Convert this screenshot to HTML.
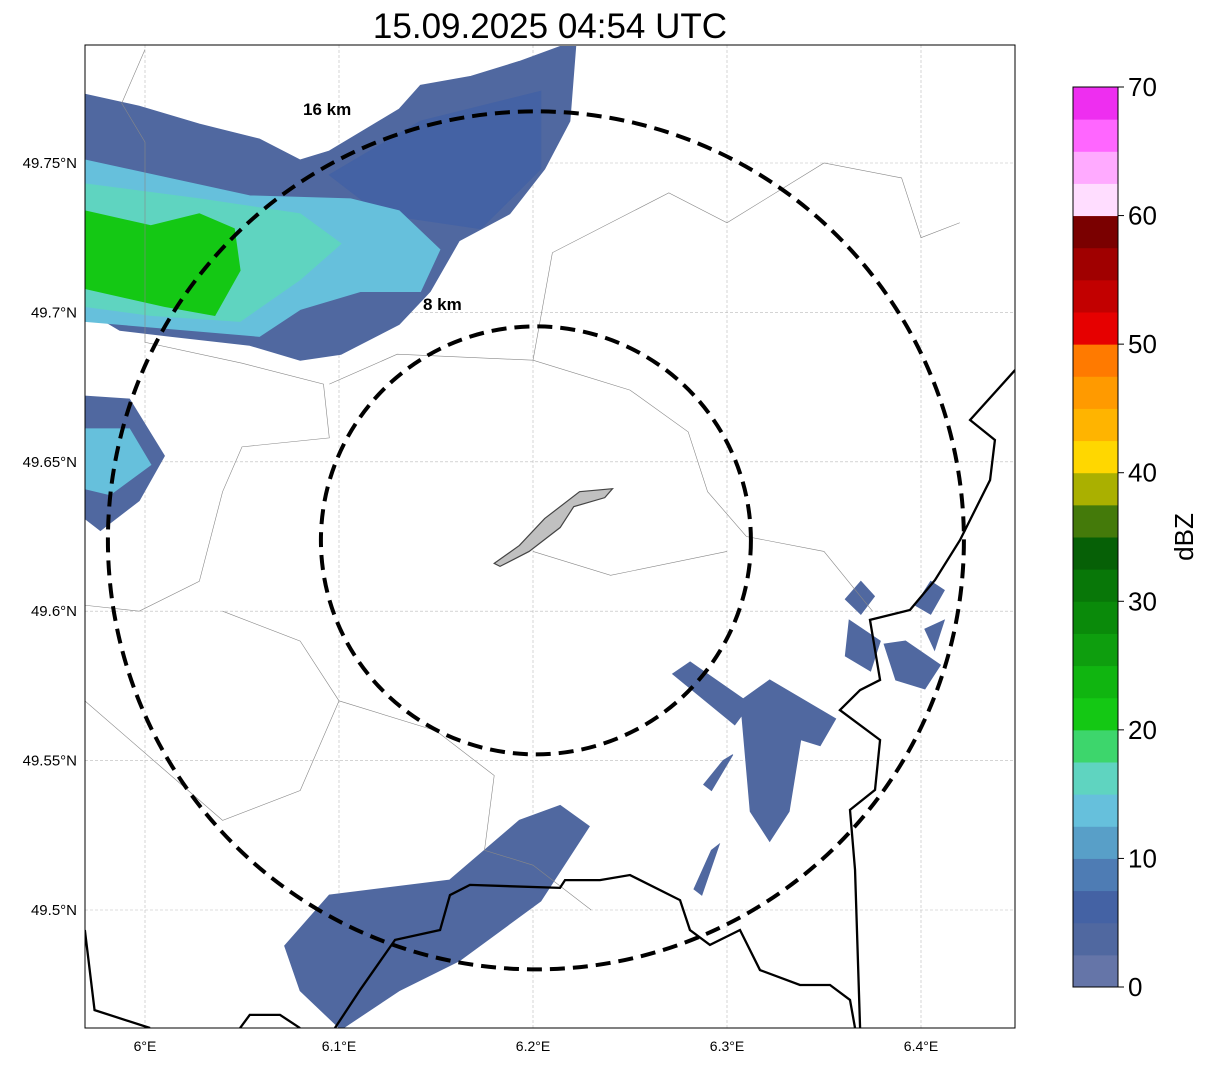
<!DOCTYPE html>
<html><head><meta charset="utf-8"><style>
body{margin:0;background:#fff;width:1207px;height:1064px;overflow:hidden;font-family:"Liberation Sans","DejaVu Sans",sans-serif}
</style></head><body>
<svg id="chart" width="1207" height="1064" xmlns="http://www.w3.org/2000/svg" font-family="Liberation Sans, DejaVu Sans, sans-serif">
<defs><clipPath id="ax"><rect x="85" y="45" width="930" height="983"/></clipPath></defs>
<text x="550" y="38" font-size="35" text-anchor="middle">15.09.2025 04:54 UTC</text>
<g id="grid"></g>
<g id="marks" clip-path="url(#ax)"></g>
<g id="borders" clip-path="url(#ax)"></g>
<g id="over" clip-path="url(#ax)"></g>
<rect x="85" y="45" width="930" height="983" fill="none" stroke="#000" stroke-width="1"/>
<g id="ticks"></g>
<g id="cbar"></g>
</svg>
<script>
const lonTicks=[6.0,6.1,6.2,6.3,6.4];
const lonLabels=["6°E","6.1°E","6.2°E","6.3°E","6.4°E"];
const latTicks=[49.75,49.7,49.65,49.6,49.55,49.5];
const latLabels=["49.75°N","49.7°N","49.65°N","49.6°N","49.55°N","49.5°N"];
const cbColors=["#6575a8","#5068a0","#4462a4","#4e7cb4","#589fc8","#66c0dc","#5fd4c0","#3dd66c","#14c814","#10b510","#0e9e0e","#0a8a0a","#087708","#066006","#447a0a","#aab000","#ffd700","#ffb400","#ff9a00","#ff7a00","#e60000","#c20000","#a00000","#7a0000","#ffddff","#ffaaff","#ff66ff","#ee2ef0"];
const cbTicks=[0,10,20,30,40,50,60,70];
const echoDbz=[4,6,13,17,21,4,13,4,3,3,3,3,3,3,3,3,3];
const echoPolys=[
[[5.969,49.773],[5.997,49.769],[6.028,49.763],[6.059,49.758],[6.080,49.751],[6.095,49.754],[6.131,49.768],[6.142,49.776],[6.168,49.779],[6.193,49.784],[6.214,49.789],[6.222,49.789],[6.219,49.764],[6.206,49.748],[6.188,49.733],[6.162,49.724],[6.147,49.707],[6.131,49.696],[6.101,49.686],[6.080,49.684],[6.054,49.689],[6.013,49.692],[5.987,49.694],[5.969,49.701]],
[[6.142,49.764],[6.204,49.774],[6.204,49.748],[6.173,49.728],[6.121,49.733],[6.095,49.746]],
[[5.969,49.751],[6.054,49.739],[6.106,49.738],[6.131,49.734],[6.152,49.721],[6.142,49.707],[6.111,49.707],[6.080,49.701],[6.059,49.692],[5.969,49.697]],
[[5.969,49.743],[6.028,49.738],[6.080,49.733],[6.101,49.723],[6.080,49.711],[6.049,49.697],[6.003,49.699],[5.969,49.702]],
[[5.969,49.734],[6.003,49.729],[6.028,49.733],[6.046,49.728],[6.049,49.714],[6.036,49.699],[6.010,49.702],[5.969,49.708]],
[[5.969,49.672],[5.992,49.671],[6.010,49.652],[5.997,49.637],[5.977,49.627],[5.969,49.631]],
[[5.969,49.661],[5.992,49.661],[6.003,49.649],[5.982,49.639],[5.969,49.641]],
[[6.072,49.488],[6.095,49.505],[6.157,49.510],[6.193,49.530],[6.214,49.535],[6.229,49.528],[6.204,49.503],[6.162,49.483],[6.131,49.473],[6.101,49.460],[6.080,49.473]],
[[6.272,49.579],[6.281,49.583],[6.312,49.569],[6.304,49.562]],
[[6.307,49.570],[6.322,49.577],[6.356,49.564],[6.348,49.555],[6.338,49.557],[6.332,49.533],[6.322,49.523],[6.312,49.533]],
[[6.361,49.604],[6.369,49.610],[6.376,49.605],[6.369,49.599]],
[[6.363,49.597],[6.379,49.590],[6.374,49.580],[6.361,49.585]],
[[6.381,49.589],[6.392,49.590],[6.410,49.582],[6.402,49.574],[6.387,49.577]],
[[6.397,49.602],[6.405,49.610],[6.412,49.607],[6.405,49.599]],
[[6.402,49.594],[6.412,49.597],[6.407,49.587]],
[[6.298,49.550],[6.303,49.552],[6.292,49.540],[6.288,49.542]],
[[6.292,49.520],[6.296,49.522],[6.287,49.505],[6.283,49.507]]
];
const ns="http://www.w3.org/2000/svg";
const X=lon=>145+(lon-6.0)*1940;
const Y=lat=>163-(lat-49.75)*2988;
const cbY=v=>987-v*900/70;
function mk(tag,attrs,parent){const e=document.createElementNS(ns,tag);for(const k in attrs)e.setAttribute(k,attrs[k]);parent.appendChild(e);return e;}
const grid=document.getElementById('grid'),ticks=document.getElementById('ticks'),marks=document.getElementById('marks'),bord=document.getElementById('borders'),over=document.getElementById('over'),cbar=document.getElementById('cbar');
lonTicks.forEach((v,i)=>{
 const l=mk('line',{x1:X(v),x2:X(v),y1:45,y2:1028,stroke:'#bbb','stroke-width':0.6,'stroke-dasharray':'3,2'},grid);
 
 
 const t=mk('text',{x:X(v),y:1051,'font-size':14,'text-anchor':'middle'},ticks);t.textContent=lonLabels[i];
 
 
});
latTicks.forEach((v,i)=>{
 const l=mk('line',{x1:85,x2:1015,y1:Y(v),y2:Y(v),stroke:'#bbb','stroke-width':0.6,'stroke-dasharray':'3,2'},grid);
 
 
 const t=mk('text',{x:77,y:Y(v)+5,'font-size':15,'text-anchor':'end'},ticks);t.textContent=latLabels[i];
 
 
});
const thin=[[[6.0,49.788],[5.988,49.770],[6.000,49.757],[6.000,49.690],[6.050,49.683],[6.092,49.676],[6.095,49.658],[6.050,49.655],[6.040,49.640],[6.028,49.610],[5.997,49.600],[5.969,49.602]],
[[6.095,49.676],[6.130,49.686],[6.200,49.684],[6.250,49.674],[6.280,49.660],[6.290,49.640],[6.310,49.625],[6.350,49.620],[6.375,49.600]],
[[6.200,49.684],[6.210,49.720],[6.270,49.740],[6.300,49.730],[6.350,49.750],[6.390,49.745],[6.400,49.725],[6.420,49.730]],
[[6.040,49.600],[6.080,49.590],[6.100,49.570],[6.150,49.560],[6.180,49.545],[6.175,49.520],[6.200,49.515],[6.230,49.500]],
[[6.200,49.620],[6.240,49.612],[6.300,49.620]],[[6.100,49.570],[6.080,49.540],[6.040,49.530],[5.969,49.570]]];
thin.forEach(p=>{const e=mk('polyline',{points:p.map(q=>X(q[0])+','+Y(q[1])).join(' '),fill:'none',stroke:'#888','stroke-width':0.6},bord);
 
 });
echoPolys.forEach((p,i)=>{
 const c=cbColors[Math.min(27,Math.floor(echoDbz[i]/2.5))];
 const e=mk('polygon',{points:p.map(q=>X(q[0])+','+Y(q[1])).join(' '),fill:c,stroke:c,'stroke-width':1},marks);
 
 
});
const thick=[
[[6.4485,49.6807],[6.4253,49.6640],[6.4381,49.6573],[6.4356,49.6439],[6.4201,49.6238],[6.4072,49.6104],[6.3943,49.6004],[6.3737,49.5971],[6.3789,49.5770],[6.3686,49.5736],[6.3582,49.5669],[6.3789,49.5569],[6.3763,49.5402],[6.3634,49.5335],[6.3660,49.5134],[6.3686,49.4605]],
[[5.969,49.4933],[5.974,49.4665],[6.0026,49.4605]],
[[6.049,49.4605],[6.054,49.4649],[6.0696,49.4649],[6.0799,49.4605]],
[[6.0979,49.4605],[6.1108,49.4732],[6.1289,49.49],[6.1521,49.4933],[6.1572,49.505],[6.1675,49.5084],[6.2139,49.5074],[6.2165,49.51],[6.2345,49.51],[6.25,49.5117],[6.2758,49.5033],[6.2809,49.4933],[6.2912,49.4883],[6.3067,49.4933],[6.317,49.4799],[6.3376,49.4749],[6.3531,49.4749],[6.3634,49.4699],[6.366,49.4605]]
];
thick.forEach(p=>{const e=mk('polyline',{points:p.map(q=>X(q[0])+','+Y(q[1])).join(' '),fill:'none',stroke:'#000','stroke-width':2.3},over);
 
 });
const city=[[6.180,49.616],[6.193,49.622],[6.206,49.631],[6.224,49.640],[6.241,49.641],[6.237,49.638],[6.221,49.635],[6.214,49.628],[6.198,49.620],[6.183,49.615]];
const ce=mk('polygon',{points:city.map(q=>X(q[0])+','+Y(q[1])).join(' '),fill:'#c0c0c0',stroke:'#444','stroke-width':1.2},over);


const ringCenter=[6.2015,49.6237];
const ringRadii=[[215,214],[428,429]];
ringRadii.forEach((r,i)=>{const e=mk('ellipse',{cx:X(ringCenter[0]),cy:Y(ringCenter[1]),rx:r[0],ry:r[1],fill:'none',stroke:'#000','stroke-width':4,'stroke-dasharray':'15,8'},over);
 
 });
const l1=mk('text',{x:303,y:115,'font-size':17,'font-weight':'bold'},over);l1.textContent='16 km';


const l2=mk('text',{x:423,y:310,'font-size':17,'font-weight':'bold'},over);l2.textContent='8 km';


cbColors.forEach((c,i)=>{const e=mk('rect',{x:1073,y:cbY((i+1)*2.5),width:45,height:900/28+0.5,fill:c},cbar);
 
 });
mk('rect',{x:1073,y:87,width:45,height:900,fill:'none',stroke:'#000','stroke-width':1},cbar);
cbTicks.forEach(v=>{mk('line',{x1:1118,x2:1124,y1:cbY(v),y2:cbY(v),stroke:'#000'},cbar);
 const t=mk('text',{x:1128,y:cbY(v)+9,'font-size':26},cbar);t.textContent=v;
 
 });
const cl=mk('text',{x:1193,y:537,'font-size':26,'text-anchor':'middle',transform:'rotate(-90 1193 537)'},cbar);cl.textContent='dBZ';


</script>
</body></html>
